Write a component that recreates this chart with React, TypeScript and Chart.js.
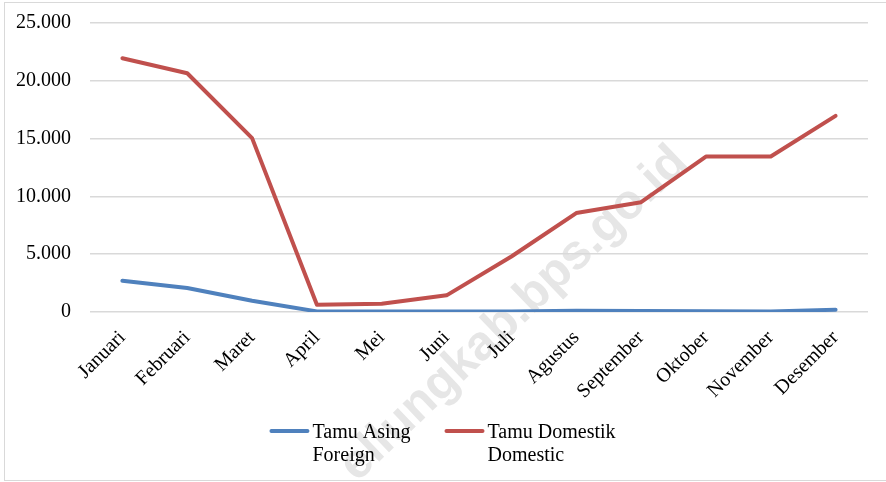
import React, { useEffect, useRef } from "react";
import { Chart, registerables } from "chart.js";

Chart.register(...registerables);

const months = [
  "Januari",
  "Februari",
  "Maret",
  "April",
  "Mei",
  "Juni",
  "Juli",
  "Agustus",
  "September",
  "Oktober",
  "November",
  "Desember",
];

const foreignValues = [2700, 2070, 980, 50, 40, 40, 50, 100, 80, 70, 50, 200];
const domesticValues = [21950, 20650, 15040, 630, 720, 1440, 4800, 8560, 9500, 13450, 13450, 16970];

const yMin = 0;
const yMax = 25000;
const yStep = 5000;

const foreignLabel = ["Tamu Asing", "Foreign"];
const domesticLabel = ["Tamu Domestik", "Domestic"];

const watermarkText = "ellungkab.bps.go.id";

const SERIF = '"Liberation Serif", "Times New Roman", serif';
const BLUE = "#4F81BD";
const RED = "#C0504D";

function formatThousands(v: number): string {
  return Math.round(v)
    .toString()
    .replace(/\B(?=(\d{3})+(?!\d))/g, ".");
}

const backgroundAndWatermark = {
  id: "bgWatermark",
  beforeDraw(chart: any) {
    const ctx = chart.ctx;
    ctx.save();
    ctx.fillStyle = "#ffffff";
    ctx.fillRect(0, 0, chart.width, chart.height);
    ctx.translate(514, 314);
    ctx.rotate((-43.7 * Math.PI) / 180);
    ctx.font = 'bold 49px "Liberation Sans", Arial, sans-serif';
    ctx.fillStyle = "#e6e6e6";
    ctx.textAlign = "center";
    ctx.textBaseline = "middle";
    ctx.fillText(watermarkText, 0, 0);
    ctx.restore();
  },
};

const twoLineLegend = {
  id: "twoLineLegend",
  afterDraw(chart: any) {
    const ctx = chart.ctx;
    ctx.save();
    ctx.font = `20px ${SERIF}`;
    const lineLen = 37;
    const textGap = 5;
    const itemGap = 35;
    const items = chart.data.datasets.map((ds: any) => {
      const lines: string[] = ds.legendLines;
      const tw = Math.max(...lines.map((l) => ctx.measureText(l).width));
      return { color: ds.borderColor, lines, width: lineLen + textGap + tw };
    });
    const total = items.reduce((s: number, it: any) => s + it.width, 0) + itemGap * (items.length - 1);
    let x = (chart.width - total) / 2;
    const lineY = 431;
    const baseline1 = 438;
    const lineHeight = 22.5;
    for (const it of items) {
      ctx.strokeStyle = it.color;
      ctx.lineWidth = 4;
      ctx.lineCap = "round";
      ctx.beginPath();
      ctx.moveTo(x + 1, lineY);
      ctx.lineTo(x + lineLen, lineY);
      ctx.stroke();
      ctx.fillStyle = "#000";
      ctx.textAlign = "left";
      ctx.textBaseline = "alphabetic";
      it.lines.forEach((l: string, i: number) => {
        ctx.fillText(l, x + lineLen + textGap, baseline1 + i * lineHeight);
      });
      x += it.width + itemGap;
    }
    ctx.restore();
  },
};

export default function App() {
  const canvasRef = useRef<HTMLCanvasElement | null>(null);

  useEffect(() => {
    if (!canvasRef.current) return;
    const chart = new Chart(canvasRef.current, {
      type: "line",
      data: {
        labels: months,
        datasets: [
          {
            label: foreignLabel.join(" "),
            legendLines: foreignLabel,
            data: foreignValues,
            borderColor: BLUE,
            backgroundColor: BLUE,
            borderWidth: 4,
            pointRadius: 0,
            tension: 0,
            borderJoinStyle: "round",
            borderCapStyle: "round",
          } as any,
          {
            label: domesticLabel.join(" "),
            legendLines: domesticLabel,
            data: domesticValues,
            borderColor: RED,
            backgroundColor: RED,
            borderWidth: 4,
            pointRadius: 0,
            tension: 0,
            borderJoinStyle: "round",
            borderCapStyle: "round",
          } as any,
        ],
      },
      options: {
        responsive: false,
        animation: false,
        events: [],
        layout: { padding: { top: 23, right: 18, left: 0, bottom: 0 } },
        plugins: {
          legend: { display: false },
          tooltip: { enabled: false },
          title: { display: false },
        },
        scales: {
          x: {
            offset: true,
            grid: { display: false, drawTicks: false },
            border: { display: false },
            ticks: {
              autoSkip: false,
              maxRotation: 45,
              minRotation: 45,
              padding: 14,
              color: "#000",
              font: { family: SERIF, size: 20 },
            },
            afterFit(scale: any) {
              scale.height = 170;
              scale.paddingLeft = 0;
              scale.paddingRight = 0;
            },
          },
          y: {
            min: yMin,
            max: yMax,
            grid: { color: "#d9d9d9", lineWidth: 1.5, drawTicks: false },
            border: { display: false },
            ticks: {
              stepSize: yStep,
              padding: 19,
              color: "#000",
              font: { family: SERIF, size: 20 },
              callback: (v: any) => formatThousands(Number(v)),
            },
            afterFit(scale: any) {
              scale.width = 90;
              scale.paddingTop = 0;
              scale.paddingBottom = 0;
            },
          },
        },
      },
      plugins: [backgroundAndWatermark, twoLineLegend],
    });
    return () => chart.destroy();
  }, []);

  return (
    <div style={{ position: "fixed", left: 0, top: 0, width: 886, height: 482, background: "#fff" }}>
      <canvas ref={canvasRef} width={886} height={482} style={{ display: "block", width: 886, height: 482 }} />
      <div
        style={{
          position: "absolute",
          left: 4,
          top: 2,
          width: 890,
          height: 479,
          border: "1px solid #d9d9d9",
          boxSizing: "border-box",
          pointerEvents: "none",
        }}
      />
    </div>
  );
}
